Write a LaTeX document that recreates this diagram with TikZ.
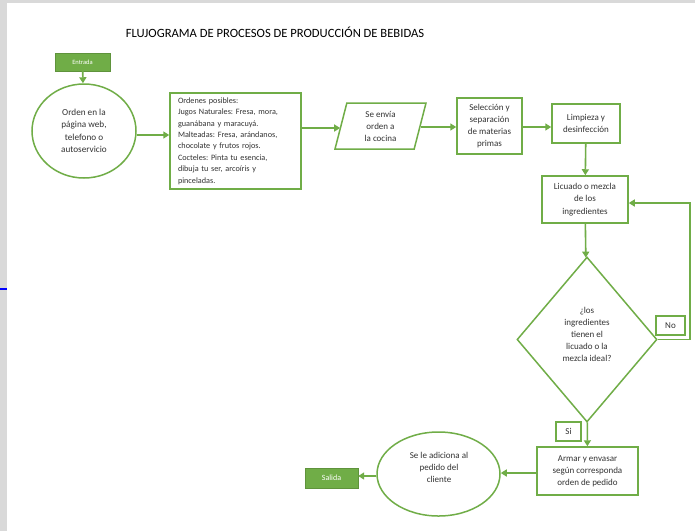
\documentclass[tikz,border=0pt]{standalone}
\usepackage{fontspec}
\setmainfont{Carlito}
\usetikzlibrary{shapes.geometric,arrows.meta}
\definecolor{flowgreen}{HTML}{70AD47}
\definecolor{txtgray}{HTML}{333333}
\definecolor{pagegray}{HTML}{D9D9D9}
\begin{document}
\begin{tikzpicture}[x=1pt,y=-1pt,
  every node/.style={font=\fontsize{9}{12}\selectfont, text=txtgray, inner sep=0pt},
  stepbox/.style={draw=flowgreen, line width=1.5pt, rectangle, align=center},
  termbox/.style={fill=flowgreen, draw=flowgreen!85!black, line width=0.4pt, text=white},
  roundbox/.style={draw=flowgreen, line width=1.5pt, ellipse, align=center},
  flow/.style={draw=flowgreen, line width=1.6pt, -{Triangle[width=7pt,length=6pt]}},
  tagbox/.style={draw=flowgreen, line width=1.3pt, rectangle}
]
% page background with grey margins
\fill[pagegray] (0,0) rectangle (695,531);
\fill[white] (7,3) rectangle (695,531);
\useasboundingbox (0,0) rectangle (695,531);
\draw[blue, line width=2pt] (0,289) -- (7,289);

% title
\node[font=\fontsize{12.6}{14}\selectfont, text=black] (title) at (275,32)
  {FLUJOGRAMA DE PROCESOS DE PRODUCCIÓN DE BEBIDAS};

% nodes
\node[termbox, font=\fontsize{6.5}{8}\selectfont, minimum width=55pt, minimum height=18pt]
  (entrada) at (82.5,62) {Entrada};
\node[roundbox, minimum width=104pt, minimum height=94pt, font=\fontsize{9.2}{12.5}\selectfont]
  (orden) at (84,131) {Orden en la\\página web,\\telefono o\\autoservicio};
\node[stepbox, minimum width=131pt, minimum height=96pt, align=left, text width=115pt,
  font=\fontsize{8.2}{11.4}\selectfont\frenchspacing] (opciones) at (235.5,141)
  {Ordenes posibles:\\
   Jugos Naturales: Fresa, mora,\\
   guanábana y maracuyá.\\
   Malteadas: Fresa, arándanos,\\
   chocolate y frutos rojos.\\
   Cocteles: Pinta tu esencia,\\
   dibuja tu ser, arcoíris y\\
   pinceladas.};
\node[draw=flowgreen, line width=1.5pt, trapezium, trapezium left angle=68.6,
  trapezium right angle=111.4, trapezium stretches body, minimum width=91pt,
  minimum height=46pt, align=center] (cocina) at (380.5,126)
  {Se envía\\orden a\\la cocina};
\node[stepbox, minimum width=65pt, minimum height=56pt] (seleccion) at (489.5,126)
  {Selección y\\separación\\de materias\\primas};
\node[stepbox, minimum width=68pt, minimum height=39pt] (limpieza) at (586,123.5)
  {Limpieza y\\desinfección};
\node[stepbox, minimum width=86pt, minimum height=47pt, font=\fontsize{9}{12.8}\selectfont]
  (licuado) at (585,199.5) {Licuado o mezcla\\de los\\ingredientes};
\node[draw=flowgreen, line width=1.5pt, diamond, minimum width=140pt,
  minimum height=165pt] (ideal) at (587,339.5) {};
\node[align=center] (idealtxt) at (587,334)
  {¿los\\ingredientes\\tienen el\\licuado o la\\mezcla ideal?};
\node[stepbox, minimum width=101pt, minimum height=48pt] (armar) at (587.5,471)
  {Armar y envasar\\según corresponda\\orden de pedido};
\node[roundbox, minimum width=123pt, minimum height=84pt] (adiciona) at (438.5,474) {};
\node[align=center] (adicionatxt) at (439,467) {Se le adiciona al\\pedido del\\cliente};
\node[termbox, font=\fontsize{8}{9}\selectfont, minimum width=53pt, minimum height=20pt]
  (salida) at (331.5,478) {Salida};

% answer tags
\node[tagbox, minimum width=29pt, minimum height=19pt] (no) at (670.5,325.5) {No};
\node[tagbox, minimum width=25pt, minimum height=19pt] (si) at (568.5,431.5) {Si};

% loop-back coordinates
\coordinate (loopA) at (690,339.5);
\coordinate (loopB) at (690,203);

% connectors
\draw[flow] (entrada) -- (orden);
\draw[flow] (orden.east |- 0,135) -- (opciones.west |- 0,135);
\draw[flow] (opciones.east |- 0,128) -- (cocina.west |- 0,128);
\draw[flow] (cocina.east |- 0,127) -- (seleccion.west |- 0,127);
\draw[flow] (seleccion.east |- 0,127) -- (limpieza.west |- 0,127);
\draw[flow] (limpieza) -- (licuado);
\draw[flow] (licuado) -- (ideal);
\draw[flow] (ideal.east) -- (loopA) -- (loopB) -- (loopB -| licuado.east);
\draw[flow] (ideal) -- (armar);
\draw[flow] (armar.west |- 0,473) -- (adiciona.east |- 0,473);
\draw[flow] (adiciona.west |- 0,476) -- (salida.east |- 0,476);
\end{tikzpicture}
\end{document}
